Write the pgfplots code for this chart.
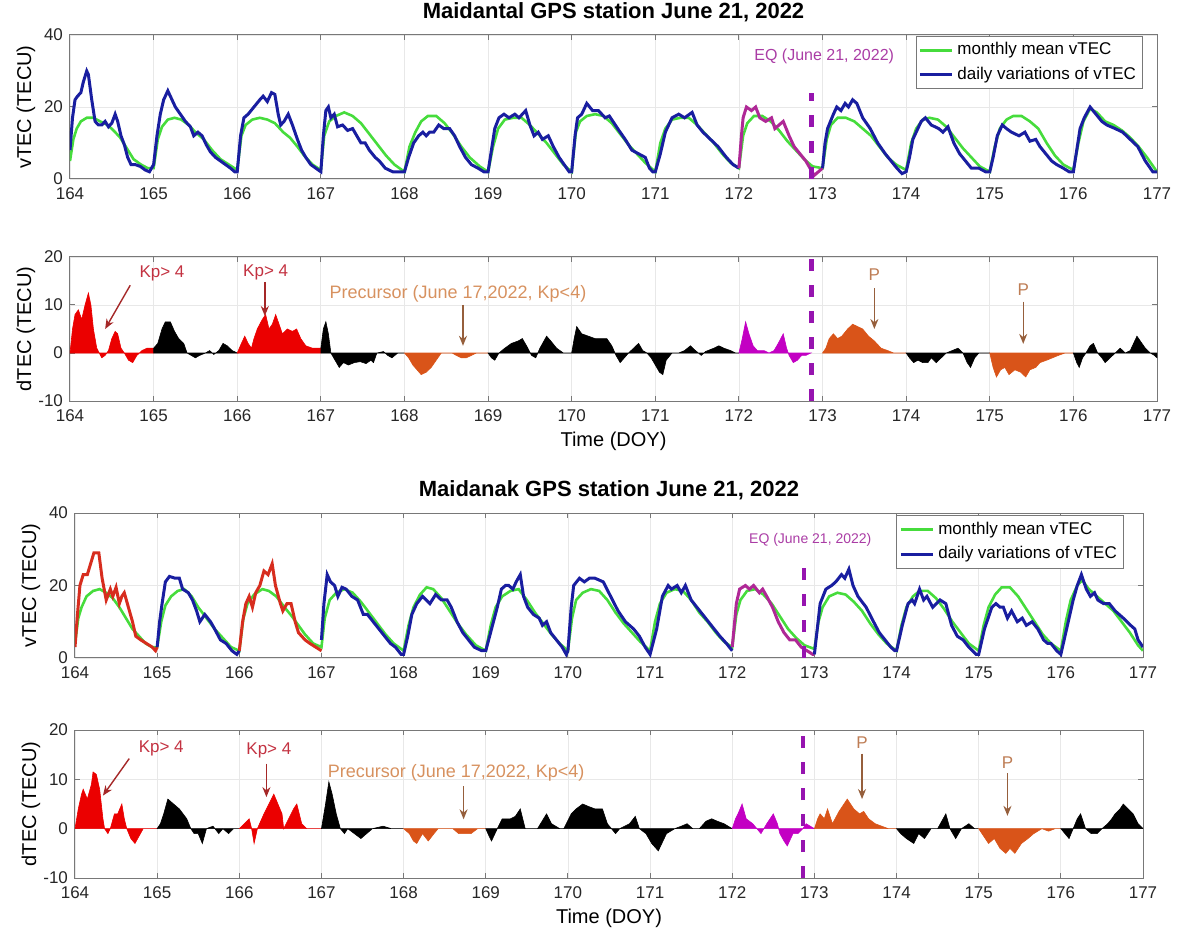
\documentclass[border=0pt]{standalone}
\usepackage{fontspec}
\setmainfont{Liberation Sans}
\usepackage{pgfplots}
\pgfplotsset{compat=1.18}
\usetikzlibrary{arrows.meta}
\definecolor{mgreen}{RGB}{70,220,60}
\definecolor{mblue}{RGB}{25,30,160}
\definecolor{vmag}{RGB}{175,40,150}
\definecolor{vred}{RGB}{215,45,30}
\definecolor{fred}{RGB}{235,0,0}
\definecolor{forange}{RGB}{217,84,25}
\definecolor{fmag}{RGB}{195,0,195}
\definecolor{eqc}{RGB}{150,20,175}
\definecolor{eqtxt}{RGB}{170,60,165}
\definecolor{kptxt}{RGB}{195,50,65}
\definecolor{kparr}{RGB}{165,40,40}
\definecolor{prtxt}{RGB}{215,145,95}
\definecolor{prarr}{RGB}{150,95,60}
\definecolor{ptxt}{RGB}{190,125,85}
\definecolor{axgray}{RGB}{120,120,120}
\tikzset{
 kparrow/.style={kparr, line width=0.7pt, -{Stealth[length=5pt,width=4pt]}},
 prarrow/.style={prarr, line width=0.7pt, -{Stealth[length=5pt,width=4pt]}},
}
\pgfplotsset{
 base/.style={
   scale only axis, xmin=164, xmax=177, xtick={164,165,...,177},
   anchor=north west,
   grid=major, major grid style={gray!18, line width=0.4pt},
   axis line style={axgray, line width=0.5pt},
   tick style={axgray, line width=0.5pt}, tick align=inside, major tick length=2.5pt,
   ticklabel style={font=\fontsize{8.5}{9}\selectfont, text=black!85},
   xticklabel style={yshift=-1pt},
   /pgf/number format/assume math mode=true,
   /pgf/number format/1000 sep={},
   every axis y label/.style={at={(rel axis cs:0,0.5)}, xshift=-22pt, rotate=90, anchor=center, font=\fontsize{10}{11}\selectfont},
   every axis x label/.style={at={(rel axis cs:0.5,0)}, yshift=-20pt, anchor=center, font=\fontsize{10}{11}\selectfont},
   every axis title/.style={at={(rel axis cs:0.5,1)}, yshift=11.5pt, anchor=center, font=\bfseries\fontsize{11}{12}\selectfont},
   legend cell align=left,
   legend style={draw=axgray, fill=white, font=\fontsize{8.5}{9.5}\selectfont, inner sep=1.2pt, row sep=0.5pt, line width=0.5pt},
   legend image code/.code={\draw[#1] (0pt,0pt) -- (16pt,0pt);},
 },
 topfig/.style={base, width=543.5pt},
 botfig/.style={base, width=534pt},
 vtec/.style={ymin=0, ymax=40, ytick={0,20,40}, ylabel={vTEC (TECU)}},
 dtec/.style={ymin=-10, ymax=20, ytick={-10,0,10,20}, ylabel={dTEC (TECU)}, xlabel={Time (DOY)}},
 gline/.style={mgreen, line width=1.3pt},
 bline/.style={mblue, line width=1.5pt},
 eqline/.style={eqc, line width=2.2pt, dash pattern=on 6pt off 7pt},
}
\begin{document}
\begin{tikzpicture}
\useasboundingbox (0,0) rectangle (589.5pt,-470.5pt);
% ================= Panel 1 =================
\begin{axis}[topfig, vtec, at={(35pt,-17.5pt)}, height=72pt,
  title={Maidantal GPS station June 21, 2022},
  legend style={at={(rel axis cs:0.987,0.995)}, anchor=north east}]
\addlegendimage{gline}\addlegendentry{monthly mean vTEC}
\addlegendimage{bline}\addlegendentry{daily variations of vTEC}
\addplot[gline, forget plot] table {
x y
164.00 5
164.04 11
164.08 14
164.13 16
164.2 17
164.28 17
164.36 16
164.45 15
164.52 13.5
164.6 11.5
164.68 8.5
164.76 5.5
164.85 4
164.93 3
165.00 3
165.05 11
165.1 14.5
165.17 16.5
165.25 17
165.33 16.5
165.42 15
165.5 13
165.6 11
165.7 8
165.8 5.5
165.9 4
166.00 2.5
166.05 12
166.1 15
166.18 16.5
166.27 17
166.36 16.5
166.45 15.5
166.55 13
166.63 11.5
166.72 9
166.8 6.5
166.9 4
167.00 2.5
167.04 12
167.1 16
167.18 17.5
167.28 18.5
167.38 17.5
167.48 15.5
167.58 12.5
167.68 9.5
167.78 6.5
167.88 4
168.00 2
168.06 9
168.13 13
168.2 16
168.28 17.5
168.38 17.5
168.48 15.5
168.58 12.5
168.68 9
168.78 6
168.9 3.5
169.00 2
169.06 9
169.12 14
169.2 16.5
169.3 17
169.4 17
169.5 15
169.6 12.5
169.7 10
169.8 7
169.9 4
170.00 2
170.05 13
170.1 16
170.18 17.5
170.28 18
170.38 17.5
170.48 15.5
170.58 12.5
170.68 9.5
170.78 7
170.88 4.5
171.00 2
171.06 10
171.12 14
171.2 16.5
171.3 17
171.4 17
171.5 15
171.6 12.5
171.7 10
171.8 7
171.9 4.5
172.00 3
172.05 12
172.1 15.5
172.18 17.5
172.28 17.5
172.38 16
172.48 13.5
172.58 10.5
172.68 8
172.78 5.5
172.88 3.5
173.00 3
173.05 11
173.1 15
173.18 17
173.28 17
173.38 16
173.48 14
173.58 12
173.68 9
173.78 6
173.88 4
174.00 2.5
174.06 10
174.12 14
174.2 16.5
174.28 17
174.38 16.5
174.48 14.5
174.58 11.5
174.68 8.5
174.78 6
174.88 3.5
175.00 2
175.06 9
175.12 14
175.2 16.5
175.28 17.5
175.38 17.5
175.48 16
175.58 14
175.68 10
175.78 6.5
175.88 4
176.00 2.5
176.06 10
176.12 16
176.2 19.5
176.28 18.5
176.38 16
176.48 15
176.58 13.5
176.68 11.5
176.78 9
176.88 6
176.97 3
177.00 2
};
\addplot[bline, forget plot] table {
x y
164.00 8
164.03 17
164.06 22
164.09 23
164.13 24
164.16 27
164.2 30
164.22 29
164.26 22
164.3 16
164.34 15
164.38 15
164.42 16
164.46 14.5
164.5 15.5
164.54 18
164.57 16
164.61 12
164.65 9.5
164.69 6
164.73 4
164.78 4
164.84 3.5
164.9 2.5
164.95 2
165.00 4
165.04 12
165.08 18
165.12 22
165.17 24.5
165.2 23
165.26 20
165.32 18
165.38 16
165.44 14.5
165.48 12
165.53 13
165.58 12
165.63 9.5
165.68 7.5
165.74 6
165.8 5
165.86 4
165.92 3
165.97 2
166.00 2
166.04 12
166.08 17
166.13 18
166.2 20
166.27 22
166.31 23
166.36 21.5
166.41 24
166.45 23.5
166.49 18
166.52 15
166.56 16
166.61 18
166.66 15
166.72 11
166.77 8
166.82 6
166.88 4
166.94 3
167.00 2
167.03 12
167.06 19
167.09 20
167.12 17
167.16 18
167.2 14.5
167.26 15
167.32 13.5
167.38 14
167.43 12
167.48 10
167.53 10
167.58 8
167.65 6
167.7 5
167.77 3
167.86 2
167.94 2
168.00 2
168.05 6
168.11 10
168.17 12
168.22 13
168.26 12
168.3 13
168.35 13
168.41 15
168.47 14
168.54 14
168.6 12
168.66 9
168.73 6
168.8 4
168.88 3
168.95 2
169.00 2
169.04 8
169.08 14
169.13 17
169.19 18
169.25 17
169.32 18
169.37 17
169.45 19
169.5 15
169.55 12
169.6 13
169.65 11
169.72 12
169.78 9
169.85 6
169.91 4
169.97 2
170.00 2
170.04 12
170.07 17
170.12 18
170.18 21
170.25 19
170.32 19
170.4 17
170.45 17.5
170.55 14
170.64 11
170.72 8
170.8 7
170.88 6
170.93 3
170.97 2
171.00 2
171.06 7
171.12 13
171.2 17
171.28 18
171.35 17
171.44 18.5
171.5 15
171.57 13
171.66 11
171.75 9
171.85 6
171.93 4
172.00 3
};
\addplot[vmag, line width=1.5pt, forget plot] table {
x y
172.00 3
172.03 12
172.05 17
172.09 20
172.15 19
172.2 20
172.25 17
172.32 16
172.39 17
172.43 14
172.48 15
172.53 16
172.6 12
172.66 9
172.73 7
172.8 5
172.85 3
172.9 1
172.95 2
173.00 3
};
\addplot[bline, forget plot] table {
x y
173.00 3
173.03 10
173.06 14
173.13 18
173.17 20
173.22 19
173.27 21
173.31 20
173.36 22
173.41 21
173.48 17
173.57 14
173.66 10
173.75 7
173.82 5
173.89 3
173.95 1.5
174.00 2
174.04 6
174.08 11
174.14 14
174.18 16
174.23 17
174.3 15
174.39 14
174.44 13
174.5 14.5
174.57 10
174.64 7
174.71 5
174.78 3
174.87 3
174.95 2
175.00 2
175.04 6
175.09 12
175.15 15
175.2 14
175.26 13
175.35 12
175.42 13
175.48 10.5
175.55 11
175.6 9
175.67 7
175.74 5
175.8 4
175.88 3
175.95 2
176.00 2
176.04 8
176.08 14
176.13 17
176.2 20
176.27 18
176.34 16
176.4 15
176.5 14
176.59 13
176.68 11
176.77 9
176.86 5
176.95 2
177.00 2
};
\addplot[eqline, forget plot] coordinates {(172.87,0) (172.87,24)};
\node[text=eqtxt, font=\fontsize{8}{9}\selectfont] at (axis cs:173.02,34) {EQ (June 21, 2022)};
\end{axis}
% ================= Panel 2 =================
\begin{axis}[topfig, dtec, at={(35pt,-128.5pt)}, height=72pt]
\addplot[fill=fred, draw=fred, line width=0.3pt] table {
x y
164.00 0
164.03 5
164.06 8
164.1 9
164.14 7
164.18 10
164.22 12.5
164.25 10
164.28 5
164.32 1
164.35 0
164.38 -1
164.42 -0.5
164.46 0.5
164.5 3
164.54 4.5
164.57 4
164.61 1
164.65 0
164.7 -1.5
164.75 -2
164.8 -0.5
164.86 0.5
164.92 1
165.00 1
} \closedcycle;
\addplot[fill=black, draw=black, line width=0.3pt] table {
x y
165.00 1
165.05 2
165.1 5
165.14 6.5
165.2 6.5
165.25 4.5
165.3 3
165.36 2
165.4 0
165.45 -0.5
165.5 -1
165.55 -0.5
165.62 0
165.67 0.5
165.72 -0.3
165.78 0.5
165.83 2
165.88 1.5
165.94 0.5
166.00 0
} \closedcycle;
\addplot[fill=fred, draw=fred, line width=0.3pt] table {
x y
166.00 0
166.05 2
166.09 3.5
166.13 2
166.17 1
166.2 3
166.24 5
166.3 7
166.34 8
166.38 5
166.42 6
166.46 8
166.5 6
166.54 4
166.6 5
166.66 4.5
166.71 5
166.76 3
166.82 1.5
166.9 1
167.00 1
} \closedcycle;
\addplot[fill=black, draw=black, line width=0.3pt] table {
x y
167.00 1
167.03 5
167.06 6.5
167.09 4
167.12 0
167.17 -1.5
167.22 -3
167.27 -2
167.33 -2.5
167.4 -2
167.47 -1.8
167.54 -2.2
167.6 -1.5
167.63 -2
167.67 0
167.75 0.3
167.8 -0.5
167.85 -1
167.92 0
168.00 0
} \closedcycle;
\addplot[fill=forange, draw=forange, line width=0.3pt] table {
x y
168.00 0
168.05 -1
168.1 -2.5
168.15 -3.5
168.2 -4.5
168.26 -4
168.32 -3
168.38 -1.5
168.44 0
168.5 0
168.57 0
168.62 -0.5
168.68 -1
168.74 -1
168.8 -0.5
168.86 0
168.93 0
169.00 0
} \closedcycle;
\addplot[fill=black, draw=black, line width=0.3pt] table {
x y
169.00 0
169.04 -1
169.08 -1.5
169.13 0
169.2 1
169.28 2
169.36 2.5
169.41 3
169.46 1.5
169.52 -0.5
169.57 -1
169.62 1
169.7 3.5
169.75 2.5
169.82 1
169.9 0
169.95 0
170.00 0
170.03 3
170.06 5.5
170.12 4
170.2 3.5
170.28 3
170.36 3
170.42 3
170.48 1.5
170.53 -0.5
170.58 -2
170.63 -1
170.68 0
170.74 1
170.8 2
170.85 0.5
170.9 0
170.95 -1
171.0 -2.5
171.05 -4
171.09 -4.5
171.13 -1.5
171.2 0
171.28 0
171.35 0.5
171.42 1.5
171.48 0.5
171.55 -0.5
171.6 0.3
171.7 1
171.76 1.5
171.82 1
171.9 0.5
171.96 0
172.00 0
} \closedcycle;
\addplot[fill=fmag, draw=fmag, line width=0.3pt] table {
x y
172.00 0
172.04 3
172.08 6.5
172.12 4
172.17 1.5
172.22 0.5
172.3 0.5
172.36 0
172.42 0.5
172.47 2
172.53 4
172.57 1
172.6 -0.5
172.65 -2
172.7 -1.5
172.75 -0.5
172.8 -0.5
172.86 0
} \closedcycle;
\addplot[fill=forange, draw=forange, line width=0.3pt] table {
x y
173.00 0
173.04 1
173.08 3
173.13 4
173.18 3
173.23 3.5
173.3 5
173.36 6
173.42 5.5
173.48 5
173.55 3.5
173.62 2.5
173.7 1
173.78 0.5
173.85 0
174.00 0
} \closedcycle;
\addplot[fill=black, draw=black, line width=0.3pt] table {
x y
174.00 0
174.04 -1
174.09 -2
174.14 -1.5
174.2 -2
174.26 -2
174.3 -1
174.36 -2
174.42 -1
174.48 0
174.55 0.5
174.62 1
174.68 0
174.73 -2
174.77 -3
174.82 -1
174.87 0
174.95 0
175.00 0
} \closedcycle;
\addplot[fill=forange, draw=forange, line width=0.3pt] table {
x y
175.00 0
175.04 -3
175.08 -5
175.13 -3.5
175.18 -3
175.23 -4.5
175.3 -3.5
175.37 -4
175.43 -5
175.48 -3.5
175.55 -3
175.6 -2
175.68 -1.5
175.75 -1
175.82 -0.5
175.9 0
176.00 0
} \closedcycle;
\addplot[fill=black, draw=black, line width=0.3pt] table {
x y
176.00 0
176.04 -2
176.07 -3
176.11 -1
176.15 0
176.2 1.5
176.24 2
176.29 0
176.34 -1
176.38 -2
176.44 -1
176.5 0
176.56 1
176.62 0
176.68 0.5
176.72 2
176.76 3.5
176.8 2.5
176.86 1
176.92 0
176.97 -0.5
177.00 -1
} \closedcycle;
\addplot[eqline] coordinates {(172.87,-10) (172.87,20)};
\node[text=kptxt, font=\fontsize{8.5}{9}\selectfont] at (axis cs:165.1,16.5) {Kp> 4};
\draw[kparrow] (axis cs:164.72,14.1) -- (axis cs:164.42,5.0);
\node[text=kptxt, font=\fontsize{8.5}{9}\selectfont] at (axis cs:166.34,16.8) {Kp> 4};
\draw[kparrow] (axis cs:166.33,14.8) -- (axis cs:166.33,7.7);
\node[text=prtxt, font=\fontsize{9}{10}\selectfont] at (axis cs:168.64,12.3) {Precursor (June 17,2022, Kp<4)};
\draw[prarrow] (axis cs:168.7,10) -- (axis cs:168.7,1.5);
\node[text=ptxt, font=\fontsize{8.5}{9}\selectfont] at (axis cs:173.62,16.3) {P};
\draw[prarrow] (axis cs:173.62,13.5) -- (axis cs:173.62,5);
\node[text=ptxt, font=\fontsize{8.5}{9}\selectfont] at (axis cs:175.4,13.2) {P};
\draw[prarrow] (axis cs:175.4,10.7) -- (axis cs:175.4,1.9);
\end{axis}
% ================= Panel 3 =================
\begin{axis}[botfig, vtec, at={(37.5pt,-256.5pt)}, height=72.5pt,
  title={Maidanak GPS station June 21, 2022},
  legend style={at={(rel axis cs:0.982,0.985)}, anchor=north east}]
\addlegendimage{gline}\addlegendentry{monthly mean vTEC}
\addlegendimage{bline}\addlegendentry{daily variations of vTEC}
\addplot[gline, forget plot] table {
x y
164.00 4
164.04 11
164.08 14
164.14 17
164.22 18.5
164.3 19
164.38 18
164.46 16.5
164.54 14
164.62 11
164.7 8
164.78 6
164.86 4
164.94 3
165.00 3
165.05 10
165.1 14.5
165.17 17
165.25 18.5
165.33 19
165.42 17
165.5 14
165.6 11
165.7 8
165.8 5.5
165.9 3
166.00 2
166.05 11
166.1 15
166.18 17.5
166.28 19
166.36 18.5
166.45 17
166.55 14
166.64 11.5
166.72 9
166.8 6.5
166.9 4
167.00 3
167.04 11
167.1 16
167.18 18
167.28 19
167.38 18
167.48 15.5
167.58 12.5
167.68 9.5
167.78 6.5
167.88 4
168.00 2
168.06 9
168.12 14
168.2 17.5
168.28 19.5
168.36 19
168.46 16.5
168.56 13
168.66 9.5
168.76 6.5
168.88 3.5
169.00 2
169.06 9
169.12 14
169.2 17
169.3 18.5
169.4 19
169.5 16
169.6 12.5
169.7 9.5
169.8 6.5
169.9 4
170.00 2
170.05 11
170.1 16
170.18 18
170.28 19
170.38 18.5
170.48 16
170.58 12.5
170.68 9.5
170.78 7
170.88 4.5
171.00 2
171.06 10
171.12 15
171.2 18
171.3 19
171.4 18.5
171.5 16
171.6 12.5
171.7 10
171.8 7
171.9 4.5
172.00 3
172.05 12
172.1 16
172.18 18.5
172.28 19
172.38 17.5
172.48 15
172.58 11.5
172.68 8
172.78 5.5
172.88 3.5
173.00 2.5
173.05 10
173.1 14
173.18 17
173.28 18
173.38 17.5
173.48 15.5
173.58 13
173.68 9.5
173.78 6.5
173.88 4
174.00 2
174.06 9
174.12 14
174.2 17
174.28 18.5
174.38 18.5
174.48 16.5
174.58 13.5
174.68 10
174.78 7
174.88 4
175.00 2
175.06 9
175.12 14
175.2 17.5
175.28 19.5
175.38 19.5
175.48 17
175.58 13.5
175.68 10
175.78 6.5
175.88 4
176.00 2
176.06 10
176.12 16
176.2 20
176.26 21.5
176.34 19
176.44 17
176.54 15
176.64 13
176.74 10
176.84 7
176.94 3.5
177.00 2
};
\addplot[vred, line width=1.5pt, forget plot] table {
x y
164.00 3
164.03 12
164.06 20
164.1 23
164.15 23
164.19 26
164.23 29
164.29 29
164.33 22
164.38 16
164.43 19
164.46 17
164.5 19.5
164.54 15
164.57 17
164.6 18
164.65 14
164.7 10
164.74 6
164.8 5
164.87 4
164.94 3
164.98 2
165.00 3
};
\addplot[bline, forget plot] table {
x y
165.00 3
165.03 10
165.06 15
165.1 21
165.15 22.5
165.22 22
165.27 22
165.31 19
165.38 18
165.43 16
165.48 13
165.52 10
165.58 12
165.65 10
165.7 8
165.77 5
165.84 4
165.91 2
165.97 1
166.00 2
};
\addplot[vred, line width=1.5pt, forget plot] table {
x y
166.00 2
166.04 10
166.08 15
166.12 17
166.16 14
166.2 18
166.25 20
166.3 24
166.35 23
166.4 26
166.44 20
166.5 15
166.53 13
166.58 15
166.63 15
166.68 10
166.72 7
166.8 5
166.86 4
166.93 3
167.00 2
};
\addplot[bline, forget plot] table {
x y
167.00 5
167.03 15
167.07 23
167.11 21
167.16 20
167.2 17
167.25 19.5
167.3 19
167.37 17
167.44 16
167.51 12
167.56 12
167.63 10
167.7 8
167.77 6
167.84 4
167.9 3
167.97 1
168.00 1
168.05 6
168.1 12
168.16 15
168.23 17
168.32 15
168.39 17.5
168.46 16
168.53 16
168.58 14
168.65 10
168.72 7
168.79 5
168.86 3
168.95 2
169.00 2
169.07 8
169.14 14
169.19 19
169.24 20
169.28 20
169.33 19
169.37 21
169.42 23
169.46 17
169.51 14
169.58 12
169.65 11
169.69 9
169.74 10
169.79 7
169.86 5
169.93 3
169.98 1
170.00 2
170.04 14
170.07 20
170.14 22
170.2 21
170.26 22
170.33 22
170.43 21
170.52 17
170.61 13
170.7 10
170.8 8
170.87 6
170.94 3
171.00 1
171.08 8
171.15 17
171.22 20
171.26 19
171.33 20
171.38 18
171.43 20
171.5 16
171.57 14
171.64 12
171.71 10
171.78 8
171.85 6
171.93 4
172.00 2
};
\addplot[vmag, line width=1.5pt, forget plot] table {
x y
172.00 3
172.05 15
172.09 19
172.16 20
172.21 19
172.26 20
172.33 18
172.37 19
172.42 17
172.49 14
172.56 10
172.63 7
172.7 5
172.77 5
172.84 3
172.91 2
172.98 1
173.00 1
};
\addplot[bline, forget plot] table {
x y
173.00 1
173.07 15
173.14 19
173.21 20
173.26 21
173.33 23
173.37 22
173.42 24.5
173.47 20
173.53 17
173.63 14
173.72 10
173.79 7
173.86 5
173.93 3
173.98 2
174.00 2
174.07 9
174.14 15
174.19 16
174.22 15
174.28 19
174.33 16
174.37 17
174.44 14
174.53 16
174.6 15
174.67 9
174.74 6
174.81 5
174.88 3
174.97 1
175.00 1
175.07 8
175.16 14
175.21 15
175.26 14
175.3 14
175.35 11
175.4 13
175.47 10
175.53 11
175.58 9
175.65 10
175.72 8
175.79 5
175.84 4
175.88 4
175.95 2
176.00 1
176.08 9
176.15 16
176.2 20
176.25 23
176.31 19
176.36 17
176.41 18
176.45 16
176.52 15
176.59 15
176.66 13
176.76 11
176.85 9
176.9 8
176.94 5
177.00 3
};
\addplot[eqline, forget plot] coordinates {(172.87,0) (172.87,25)};
\node[text=eqtxt, font=\fontsize{7}{8}\selectfont] at (axis cs:172.95,32.7) {EQ (June 21, 2022)};
\end{axis}
% ================= Panel 4 =================
\begin{axis}[botfig, dtec, at={(37.5pt,-365pt)}, height=74pt]
\addplot[fill=fred, draw=fred, line width=0.3pt] table {
x y
164.00 0
164.04 4
164.08 7
164.1 8
164.15 6
164.2 9
164.22 11.5
164.26 11
164.3 8
164.34 2
164.36 0
164.4 -1
164.43 0
164.48 3
164.52 3
164.57 5
164.6 2
164.63 0
164.68 -2
164.73 -3
164.78 -1.5
164.83 0
164.9 0
165.00 0
} \closedcycle;
\addplot[fill=black, draw=black, line width=0.3pt] table {
x y
165.00 0
165.04 1
165.08 3
165.13 6
165.2 5
165.27 4
165.36 2
165.41 0
165.45 -1
165.5 -1
165.55 -3
165.6 0
165.68 0.5
165.75 -1
165.8 0
165.87 -1
165.93 0
166.00 0
} \closedcycle;
\addplot[fill=fred, draw=fred, line width=0.3pt] table {
x y
166.00 0
166.06 1
166.12 2
166.15 0
166.18 -3
166.22 0
166.3 3
166.36 5
166.42 7
166.47 5
166.52 3
166.54 0
166.6 2
166.66 4
166.7 5
166.76 1
166.82 0
166.9 0
167.00 0
} \closedcycle;
\addplot[fill=black, draw=black, line width=0.3pt] table {
x y
167.00 0
167.05 5
167.09 9.5
167.13 7
167.18 3
167.23 0
167.28 -1
167.32 0
167.4 -1
167.48 -2
167.55 -1
167.62 0
167.75 0.5
167.85 0
168.00 0
} \closedcycle;
\addplot[fill=forange, draw=forange, line width=0.3pt] table {
x y
168.00 0
168.07 -1
168.12 -2.5
168.16 -3
168.23 -1
168.3 -2.5
168.37 -1
168.42 0
168.6 0
168.67 -1
168.75 -1
168.82 -1
168.9 0
169.00 0
} \closedcycle;
\addplot[fill=black, draw=black, line width=0.3pt] table {
x y
169.00 0
169.04 -1.5
169.07 -2.5
169.14 0
169.2 2
169.3 2
169.36 2.5
169.42 4
169.48 0
169.56 0
169.63 0
169.74 3
169.8 1
169.9 0
169.95 0
170.04 3
170.1 4
170.18 5
170.25 4.5
170.33 4
170.42 4
170.48 1
170.58 -1
170.63 0
170.75 1
170.82 2.5
170.87 0
170.95 -1
171.02 -3
171.1 -4.5
171.2 -1
171.3 0
171.38 0.5
171.45 1
171.52 0
171.6 0
171.68 1.5
171.75 2
171.82 1.5
171.9 1
172.00 0
} \closedcycle;
\addplot[fill=fmag, draw=fmag, line width=0.3pt] table {
x y
172.00 0
172.04 2
172.07 3
172.12 5
172.17 2
172.25 1
172.3 0
172.35 -1
172.42 1
172.5 3
172.55 1
172.58 -1
172.63 -2.5
172.67 -3.5
172.74 -1
172.8 -1
172.86 0
172.9 1
173.00 0
} \closedcycle;
\addplot[fill=forange, draw=forange, line width=0.3pt] table {
x y
173.00 0
173.04 2
173.07 3
173.12 2
173.16 4
173.22 1
173.3 3.5
173.4 6
173.48 4
173.55 3
173.6 3.5
173.66 2
173.74 1
173.82 0.5
173.9 0
174.00 0
} \closedcycle;
\addplot[fill=black, draw=black, line width=0.3pt] table {
x y
174.00 0
174.05 -1
174.12 -2
174.21 -3
174.27 -1
174.34 -2
174.42 0
174.5 0
174.6 3
174.65 0
174.72 -2
174.79 0
174.88 1
174.95 0
175.00 0
} \closedcycle;
\addplot[fill=forange, draw=forange, line width=0.3pt] table {
x y
175.00 0
175.06 -1.5
175.12 -3
175.19 -2
175.26 -4
175.33 -5
175.38 -4
175.44 -5
175.52 -3
175.6 -2
175.67 -1
175.77 0
175.85 -0.5
175.93 0
176.00 0
} \closedcycle;
\addplot[fill=black, draw=black, line width=0.3pt] table {
x y
176.00 0
176.05 -1
176.1 -2
176.15 0
176.2 2
176.24 3
176.3 0
176.37 -1
176.44 -1
176.5 0
176.57 1
176.62 2
176.66 3
176.72 4
176.76 5
176.82 4
176.88 3
176.94 1
177.00 0
} \closedcycle;
\addplot[eqline] coordinates {(172.86,-10) (172.86,20)};
\node[text=kptxt, font=\fontsize{8.5}{9}\selectfont] at (axis cs:165.05,16.2) {Kp> 4};
\draw[kparrow] (axis cs:164.66,14.2) -- (axis cs:164.34,6.7);
\node[text=kptxt, font=\fontsize{8.5}{9}\selectfont] at (axis cs:166.36,15.8) {Kp> 4};
\draw[kparrow] (axis cs:166.33,13.2) -- (axis cs:166.33,6.4);
\node[text=prtxt, font=\fontsize{9}{10}\selectfont] at (axis cs:168.64,11.3) {Precursor (June 17,2022, Kp<4)};
\draw[prarrow] (axis cs:168.73,8.6) -- (axis cs:168.73,1.9);
\node[text=ptxt, font=\fontsize{8.5}{9}\selectfont] at (axis cs:173.58,17.5) {P};
\draw[prarrow] (axis cs:173.58,15.2) -- (axis cs:173.58,6);
\node[text=ptxt, font=\fontsize{8.5}{9}\selectfont] at (axis cs:175.35,13.3) {P};
\draw[prarrow] (axis cs:175.35,11.2) -- (axis cs:175.35,2.6);
\end{axis}
\end{tikzpicture}
\end{document}
